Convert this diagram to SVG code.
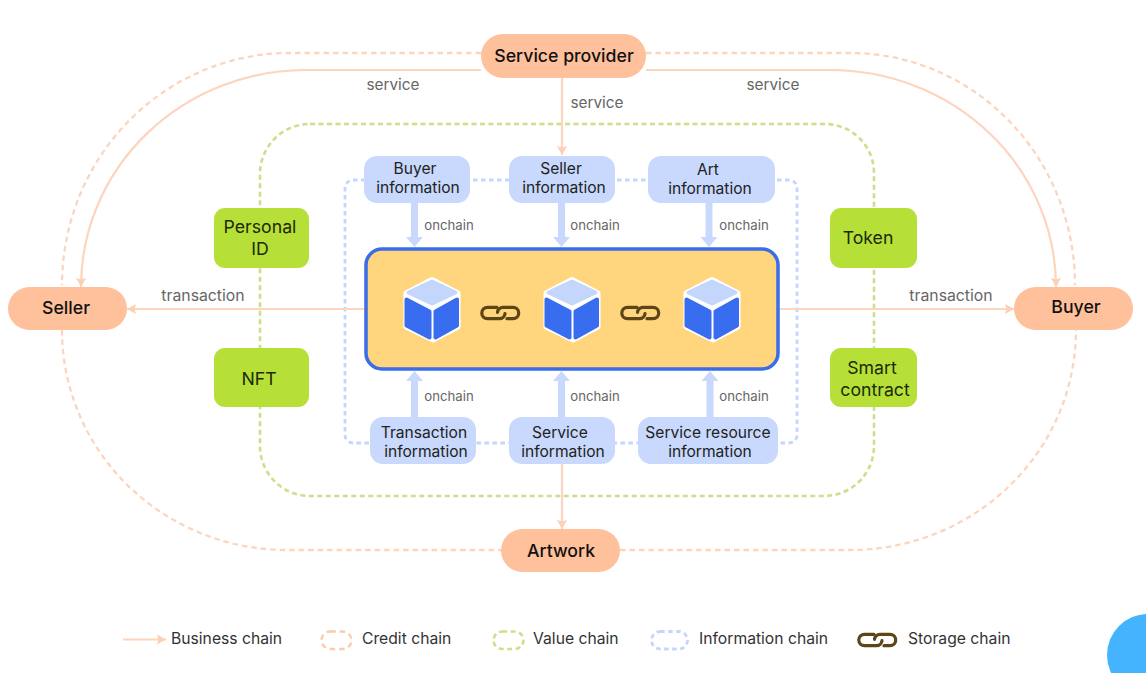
<svg xmlns="http://www.w3.org/2000/svg" width="1146" height="673" viewBox="0 0 1146 673">
<style>
text{font-family:"Inter","Noto Sans","Liberation Sans",sans-serif;text-anchor:middle;fill:#222}
.lg{font-size:17.7px;font-weight:500;fill:#111}
.nd{font-size:15.6px;fill:#222}
.gn{font-size:17.7px;fill:#1c2a08}
.lb{font-size:15.300px;fill:#666}
.tr{font-size:15.800px;fill:#666}
.oc{font-size:13.200px;fill:#666}
.le{font-size:15.700px;fill:#333;text-anchor:start}
.or{fill:#ffc09c}.bl{fill:#c8d9fd}.ge{fill:#b6e037}
.cr{fill:none;stroke:#fbd5be;stroke-width:2.300;stroke-dasharray:5.500 4}
.va{fill:none;stroke:#cbe08c;stroke-width:2.600;stroke-dasharray:5 3.500}
.in{fill:none;stroke:#c4d6fd;stroke-width:2.800;stroke-dasharray:4.500 3.500}
.bu{fill:none;stroke:#fdd4bc;stroke-width:2.200}
.th{fill:none;stroke:#c8d9fd;stroke-width:7}
.lk{fill:none;stroke:#5c4516;stroke-width:3.200;stroke-linecap:round}
.hull{fill:#fff;stroke:#fff;stroke-width:5;stroke-linejoin:round}
.top{fill:#c5d6fc;stroke:#c5d6fc;stroke-width:4;stroke-linejoin:round}
.sd{fill:#386df0;stroke:#386df0;stroke-width:4;stroke-linejoin:round}
</style>
<defs>
<marker id="a" markerUnits="userSpaceOnUse" markerWidth="12" markerHeight="12" refX="9" refY="5" orient="auto"><path d="M0 0L9 5L0 10L1.500 5Z" fill="#fdd0b6"/></marker>
<g id="link"><path class="lk" d="M497 307.300H487.500a5.700 5.700 0 0 0 0 11.400H499.500a5.700 5.700 0 0 0 5.500-5"/><path class="lk" d="M507 318.700H513a5.700 5.700 0 0 0 0-11.400H503a5.700 5.700 0 0 0-5.500 5"/></g>
<g id="cube"><path class="hull" d="M432 279.500L458 293V327L433 340L406 327V293Z"/><path class="top" d="M432 281.500L455.500 292.500L432 303.500L408.500 292.500Z"/><path class="sd" d="M406.500 299.500L429.500 311.500V337.500L406.500 325.500Z"/><path class="sd" d="M457 299.500L435.500 311.500V337.500L457 325.500Z"/></g>
</defs>
<rect width="1146" height="673" fill="#fff"/>
<circle id="corner" cx="1148" cy="655" r="41" fill="#44b4ff"/>
<g id="connectors">
<path class="cr" d="M481 53H290A228 232 0 0 0 62 285"/>
<path class="cr" d="M646 53H850A225 232 0 0 1 1075 285"/>
<path class="cr" d="M62 330A225 220 0 0 0 287 550H501"/>
<path class="cr" d="M620 550H850A226 220 0 0 0 1076 330"/>
<path class="va" d="M310 124H825A49 49 0 0 1 874 173V446A50 50 0 0 1 824 496H310A50 50 0 0 1 260 446V173A50 50 0 0 1 310 124Z"/>
<path class="in" d="M353 180H789A8 8 0 0 1 797 188V435A8 8 0 0 1 789 443H353A8 8 0 0 1 345 435V188A8 8 0 0 1 353 180Z"/>
<path class="bu" marker-end="url(#a)" d="M481 70H305A225 217 0 0 0 81 287"/>
<path class="bu" marker-end="url(#a)" d="M646 70H830A226 217 0 0 1 1056 287"/>
<path class="bu" marker-end="url(#a)" d="M562 78V155"/>
<path class="bu" marker-end="url(#a)" d="M562 464V529"/>
<path class="bu" marker-end="url(#a)" d="M366 309H127"/>
<path class="bu" marker-end="url(#a)" d="M778 309H1014"/>
<path class="th" d="M414.500 203V238"/><path class="bl" d="M406 237H423L414.500 247Z"/>
<path class="th" d="M561.500 203V238"/><path class="bl" d="M553 237H570L561.500 247Z"/>
<path class="th" d="M709 203V238"/><path class="bl" d="M700.500 237H717.500L709 247Z"/>
<path class="th" d="M414.500 417V381"/><path class="bl" d="M406 381H423L414.500 371Z"/>
<path class="th" d="M561.500 417V381"/><path class="bl" d="M553 381H570L561.500 371Z"/>
<path class="th" d="M710 417V381"/><path class="bl" d="M701.500 381H718.500L710 371Z"/>
</g>
<g id="connector-labels">
<text class="lb" x="393" y="90">service</text>
<text class="lb" x="597" y="108">service</text>
<text class="lb" x="773" y="90">service</text>
<text class="tr" x="203" y="301">transaction</text>
<text class="tr" x="951" y="301">transaction</text>
<text class="oc" x="449" y="230">onchain</text>
<text class="oc" x="595" y="230">onchain</text>
<text class="oc" x="744" y="230">onchain</text>
<text class="oc" x="449" y="401">onchain</text>
<text class="oc" x="595" y="401">onchain</text>
<text class="oc" x="744" y="401">onchain</text>
</g>
<g id="service-provider"><rect class="or" x="481" y="34" width="165" height="44" rx="22"/><text class="lg" x="564" y="62">Service provider</text></g>
<g id="seller"><rect class="or" x="8" y="287" width="119" height="43" rx="21.500"/><text class="lg" x="66" y="314">Seller</text></g>
<g id="buyer"><rect class="or" x="1014" y="287" width="119" height="43" rx="21.500"/><text class="lg" x="1076" y="313">Buyer</text></g>
<g id="artwork"><rect class="or" x="501" y="529" width="119" height="43" rx="21.500"/><text class="lg" x="561" y="557">Artwork</text></g>
<g id="buyer-information"><rect class="bl" x="364" y="156" width="106" height="47" rx="13"/><text class="nd" x="415" y="174">Buyer</text><text class="nd" x="418" y="193">information</text></g>
<g id="seller-information"><rect class="bl" x="509" y="156" width="106" height="47" rx="13"/><text class="nd" x="561" y="174">Seller</text><text class="nd" x="564" y="193">information</text></g>
<g id="art-information"><rect class="bl" x="648" y="156" width="127" height="47" rx="13"/><text class="nd" x="708" y="175">Art</text><text class="nd" x="710" y="194">information</text></g>
<g id="transaction-information"><rect class="bl" x="370" y="417" width="106" height="47" rx="13"/><text class="nd" x="424" y="438">Transaction</text><text class="nd" x="426" y="457">information</text></g>
<g id="service-information"><rect class="bl" x="509" y="417" width="106" height="47" rx="13"/><text class="nd" x="560" y="438">Service</text><text class="nd" x="563" y="457">information</text></g>
<g id="service-resource-information"><rect class="bl" x="638" y="417" width="140" height="47" rx="13"/><text class="nd" x="708" y="438">Service resource</text><text class="nd" x="710" y="457">information</text></g>
<g id="personal-id"><rect class="ge" x="214" y="208" width="95" height="60" rx="11"/><text class="gn" x="260" y="233">Personal</text><text class="gn" x="260" y="255">ID</text></g>
<g id="nft"><rect class="ge" x="214" y="348" width="95" height="59" rx="11"/><text class="gn" x="259" y="385">NFT</text></g>
<g id="token"><rect class="ge" x="830" y="208" width="87" height="60" rx="11"/><text class="gn" x="868" y="244">Token</text></g>
<g id="smart-contract"><rect class="ge" x="830" y="348" width="87" height="59" rx="11"/><text class="gn" x="872" y="374">Smart</text><text class="gn" x="875" y="396">contract</text></g>
<g id="blockchain">
<rect x="366" y="249" width="412" height="120" rx="16" fill="#ffd67e" stroke="#3a6ee8" stroke-width="3.500"/>
<use href="#cube"/><use href="#cube" x="140"/><use href="#cube" x="280"/>
<use href="#link"/><use href="#link" x="140"/>
</g>
<g id="legend">
<path class="bu" marker-end="url(#a)" d="M123 639.500H166"/>
<text class="le" x="171" y="644">Business chain</text>
<rect class="cr" style="stroke:#fcc9aa" x="321.500" y="631.500" width="30" height="17.500" rx="8.700"/>
<text class="le" x="362" y="644">Credit chain</text>
<rect class="va" x="493.500" y="631.500" width="30" height="17.500" rx="8.700"/>
<text class="le" x="533" y="644">Value chain</text>
<rect class="in" x="651.500" y="631.500" width="36" height="17.500" rx="8.700"/>
<text class="le" x="699" y="644">Information chain</text>
<use href="#link" transform="translate(377 327)"/>
<text class="le" x="908" y="644">Storage chain</text>
</g>
</svg>
